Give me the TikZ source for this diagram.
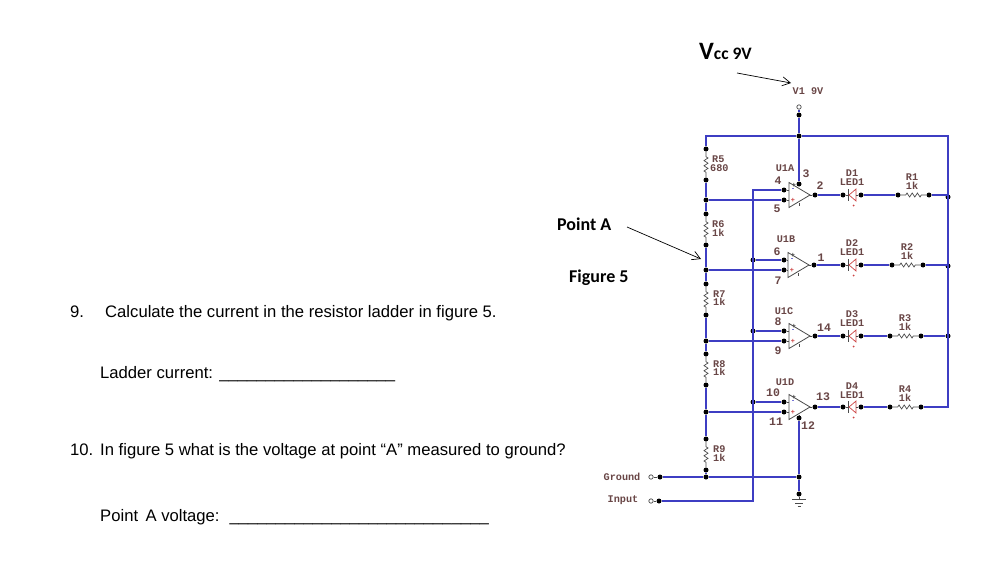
\documentclass[tikz,border=0pt]{standalone}
\usepackage{fontspec}
\setmainfont{Liberation Sans}
\newfontfamily\calib{Carlito}
\newfontfamily\schem{Liberation Mono}
\usetikzlibrary{arrows.meta,decorations.pathmorphing,calc}
\definecolor{wireblue}{RGB}{62,62,195}
\definecolor{schemtxt}{RGB}{105,70,70}
\definecolor{ledred}{RGB}{205,70,70}
\definecolor{part}{RGB}{75,75,75}
\tikzset{
  wire/.style={draw=wireblue,line width=1.4pt},
  lead/.style={draw=part,line width=0.8pt},
  dot/.style={circle,fill=black,inner sep=0pt,minimum size=5pt},
  port/.style={circle,draw=part,fill=white,line width=0.7pt,inner sep=0pt,minimum size=4.4pt},
  res/.style={draw=part,line width=0.7pt,decorate,decoration={zigzag,segment length=5.2pt,amplitude=2pt,pre length=5pt,post length=5pt}},
  lab/.style={font=\schem\bfseries\fontsize{10.2}{11}\selectfont,text=schemtxt,inner sep=0pt},
  pin/.style={font=\schem\bfseries\fontsize{11.5}{12}\selectfont,text=schemtxt,inner sep=0pt},
  body/.style={font=\fontsize{16.65}{18}\selectfont,inner sep=0pt,anchor=base west},
  call/.style={font=\calib\bfseries\fontsize{18}{20}\selectfont,inner sep=0pt},
  pointer/.style={draw=black,line width=0.7pt,-{Straight Barb[length=8pt,width=9pt,line width=0.7pt]}},
}
% opamp: name, left x, centre y, minus y, plus y
\newcommand{\opampsym}[5]{%
  \draw[lead] (#2,#3-12.5) coordinate (#1-t) -- (#2+21,#3) -- (#2,#3+12.5) coordinate (#1-b) -- cycle;
  \node[dot] (#1-m) at (784,#4) {};
  \node[dot] (#1-p) at (784,#5) {};
  \node[dot] (#1-o) at (#2+26,#3) {};
  \draw[lead] (#1-m) -- (#2,#4);
  \draw[lead] (#1-p) -- (#2,#5);
  \draw[lead] (#2+21,#3) -- (#1-o);
  \node[font=\bfseries\fontsize{6}{6}\selectfont,text=blue!70!black,inner sep=0pt] at (#2+4,#4) {-};
  \node[font=\bfseries\fontsize{7}{7}\selectfont,text=ledred,inner sep=0pt] at (#2+4,#5) {+};
  \node[font=\bfseries\fontsize{7}{7}\selectfont,text=part,inner sep=0pt] at (#2+5,#3-10) {+};
  \draw[lead] (#2+10,#3+8) -- (#2+10,#3+11);
}
% LED: name, centre y
\newcommand{\ledsym}[2]{%
  \node[dot] (#1-a) at (843,#2) {};
  \node[dot] (#1-k) at (861,#2) {};
  \draw[lead] (#1-a) -- (848.5,#2);
  \draw[lead] (848.5,#2-6) -- (848.5,#2+6);
  \draw[ledred,line width=0.7pt] (849,#2) -- (856,#2-6) -- (856,#2+6) -- cycle;
  \draw[lead] (856,#2) -- (#1-k);
  \fill[ledred] (853.5,#2+10.5) circle (1pt);
}
\begin{document}
\begin{tikzpicture}[x=1pt,y=-1pt]
\useasboundingbox (0,0) rectangle (982,581);
\fill[white] (0,0) rectangle (982,581);

% question text
\node[body] (q9n) at (70,317) {9.};
\node[body] (q9) at (105,317) {Calculate the current in the resistor ladder in figure 5.};
\node[body] (a9) at (100,378) {Ladder current: \_\_\_\_\_\_\_\_\_\_\_\_\_\_\_\_\_\_\_};
\node[body] (q10n) at (70,455) {10.};
\node[body] (q10) at (100,455) {In figure 5 what is the voltage at point “A” measured to ground?};
\node[body] (a10) at (100,521) {Point\, A voltage:\hspace{10pt}\_\_\_\_\_\_\_\_\_\_\_\_\_\_\_\_\_\_\_\_\_\_\_\_\_\_\_\_};

% callouts
\node[call,anchor=base west] (vcc) at (699,59) {{\fontsize{25}{26}\selectfont V}{\fontsize{17.5}{20}\selectfont cc 9V}};
\node[call,anchor=base west] (pa) at (557,230) {Point A};
\node[call,anchor=base west] (fig) at (569,282) {Figure 5};
\coordinate (vs) at (737,73);
\coordinate (ve) at (791,83);
\coordinate (ps) at (627,227);
\coordinate (pe) at (701,259);
\draw[pointer] (vs) -- (ve);
\draw[pointer] (ps) -- (pe);

% ladder nodes
\node[port] (v1) at (799,107) {};
\node[dot] (v1d) at (799,115) {};
\node[dot] (top) at (799,136) {};
\coordinate (tl) at (706,136);
\coordinate (tr) at (948,136);
\node[dot] (r5a) at (706,149) {};
\node[dot] (r5b) at (706,180) {};
\node[dot] (j1) at (706,200) {};
\node[dot] (r6a) at (706,214) {};
\node[dot] (r6b) at (706,245) {};
\node[dot] (j2) at (706,270) {};
\node[dot] (r7a) at (706,284) {};
\node[dot] (r7b) at (706,315) {};
\node[dot] (j3) at (706,341) {};
\node[dot] (r8a) at (706,354) {};
\node[dot] (r8b) at (706,385) {};
\node[dot] (j4) at (706,412) {};
\node[dot] (r9a) at (706,439) {};
\node[dot] (r9b) at (706,470) {};
\node[dot] (j5) at (706,477) {};
\node[port] (gp) at (651,477) {};
\node[dot] (gd) at (660,477) {};
\node[port] (ip) at (651,501) {};
\node[dot] (id) at (659,501) {};
\node[dot] (gj) at (799,477) {};
\node[dot] (gn) at (799,494) {};
\coordinate (ic) at (753,501);
\coordinate (it) at (753,190);
\node[dot] (b2) at (753,260) {};
\node[dot] (b3) at (753,331) {};
\node[dot] (b4) at (753,402) {};

% op amps and LEDs
\opampsym{A}{789}{195}{190}{200}
\opampsym{B}{788}{265}{260}{270}
\opampsym{C}{789}{336}{331}{341}
\opampsym{D}{789}{407}{402}{412}
\ledsym{L1}{195}
\ledsym{L2}{265}
\ledsym{L3}{336}
\ledsym{L4}{407}
\node[dot] (p3) at (799,184) {};
\node[dot] (p12) at (799,418) {};

% series resistors
\node[dot] (r1a) at (898,195) {};
\node[dot] (r1b) at (929,195) {};
\node[dot] (r2a) at (892,265) {};
\node[dot] (r2b) at (923,265) {};
\node[dot] (r3a) at (890,336) {};
\node[dot] (r3b) at (921,336) {};
\node[dot] (r4a) at (890,407) {};
\node[dot] (r4b) at (921,407) {};
\node[dot] (e1) at (948,197) {};
\node[dot] (e2) at (948,266) {};
\node[dot] (e3) at (948,336) {};
\coordinate (e4) at (948,407);

% resistors
\foreach \a/\b in {r5a/r5b,r6a/r6b,r7a/r7b,r8a/r8b,r9a/r9b,r1a/r1b,r2a/r2b,r3a/r3b,r4a/r4b}
  \draw[res] (\a) -- (\b);

% wires
\draw[wire] (v1) -- (v1d);
\draw[wire] (v1d) -- (top);
\draw[wire] (top) -- (p3);
\draw[wire] (r5a) -- (tl) -- (top);
\draw[wire] (top) -- (tr) -- (e4) -- (r4b);
\draw[wire] (r5b) -- (j1);
\draw[wire] (j1) -- (r6a);
\draw[wire] (r6b) -- (j2);
\draw[wire] (j2) -- (r7a);
\draw[wire] (r7b) -- (j3);
\draw[wire] (j3) -- (r8a);
\draw[wire] (r8b) -- (j4);
\draw[wire] (j4) -- (r9a);
\draw[wire] (r9b) -- (j5);
\draw[wire] (j1) -- (A-p);
\draw[wire] (j2) -- (B-p);
\draw[wire] (j3) -- (C-p);
\draw[wire] (j4) -- (D-p);
\draw[wire] (gd) -- (j5);
\draw[wire] (j5) -- (gj);
\draw[wire] (p12) -- (gj);
\draw[wire] (gj) -- (gn);
\draw[wire] (id) -- (ic) -- (it) -- (A-m);
\draw[wire] (b2) -- (B-m);
\draw[wire] (b3) -- (C-m);
\draw[wire] (b4) -- (D-m);
\draw[wire] (A-o) -- (L1-a);
\draw[wire] (B-o) -- (L2-a);
\draw[wire] (C-o) -- (L3-a);
\draw[wire] (D-o) -- (L4-a);
\draw[wire] (L1-k) -- (r1a);
\draw[wire] (L2-k) -- (r2a);
\draw[wire] (L3-k) -- (r3a);
\draw[wire] (L4-k) -- (r4a);
\draw[wire] (r1b) -| (e1);
\draw[wire] (r2b) -| (e2);
\draw[wire] (r3b) -- (e3);
\draw[lead] (gp) -- (gd);
\draw[lead] (ip) -- (id);

% ground symbol
\coordinate (g1) at (799,499);
\draw[lead] (gn) -- (g1);
\draw[lead] (792,499) -- (806,499);
\draw[lead] (795,503) -- (803,503);
\draw[lead] (797.5,506.5) -- (800.5,506.5);

% schematic labels
\node[lab] at (808,91) {V1 9V};
\node[lab,anchor=west] at (712,159) {R5};
\node[lab,anchor=west] at (710,168) {680};
\node[lab,anchor=west] at (712,224) {R6};
\node[lab,anchor=west] at (712,233) {1k};
\node[lab,anchor=west] at (713,294) {R7};
\node[lab,anchor=west] at (713,302) {1k};
\node[lab,anchor=west] at (713,364) {R8};
\node[lab,anchor=west] at (713,372) {1k};
\node[lab,anchor=west] at (713,449) {R9};
\node[lab,anchor=west] at (713,458) {1k};
\node[lab] at (622,477) {Ground};
\node[lab] at (623,500) {Input};
\node[lab] at (785,168) {U1A};
\node[lab] at (786,239) {U1B};
\node[lab] at (784,311) {U1C};
\node[lab] at (785,382) {U1D};
\node[lab] at (852,173.5) {D1};
\node[lab] at (852,182.5) {LED1};
\node[lab] at (852,243.5) {D2};
\node[lab] at (852,252.5) {LED1};
\node[lab] at (852,314) {D3};
\node[lab] at (852,323) {LED1};
\node[lab] at (852,386) {D4};
\node[lab] at (852,395) {LED1};
\node[lab] at (912,177) {R1};
\node[lab] at (912,186) {1k};
\node[lab] at (907,247) {R2};
\node[lab] at (907,256) {1k};
\node[lab] at (905,318) {R3};
\node[lab] at (905,327) {1k};
\node[lab] at (905,389) {R4};
\node[lab] at (905,397.5) {1k};
\node[pin] at (778,181) {4};
\node[pin] at (777,209) {5};
\node[pin] at (806,174) {3};
\node[pin] at (820,186) {2};
\node[pin] at (777,252) {6};
\node[pin] at (778,281) {7};
\node[pin] at (821,258) {1};
\node[pin] at (778,322) {8};
\node[pin] at (778,351) {9};
\node[pin] at (824,328) {14};
\node[pin] at (773,393) {10};
\node[pin] at (776,422) {11};
\node[pin] at (808,426) {12};
\node[pin] at (823,397) {13};
\end{tikzpicture}
\end{document}
